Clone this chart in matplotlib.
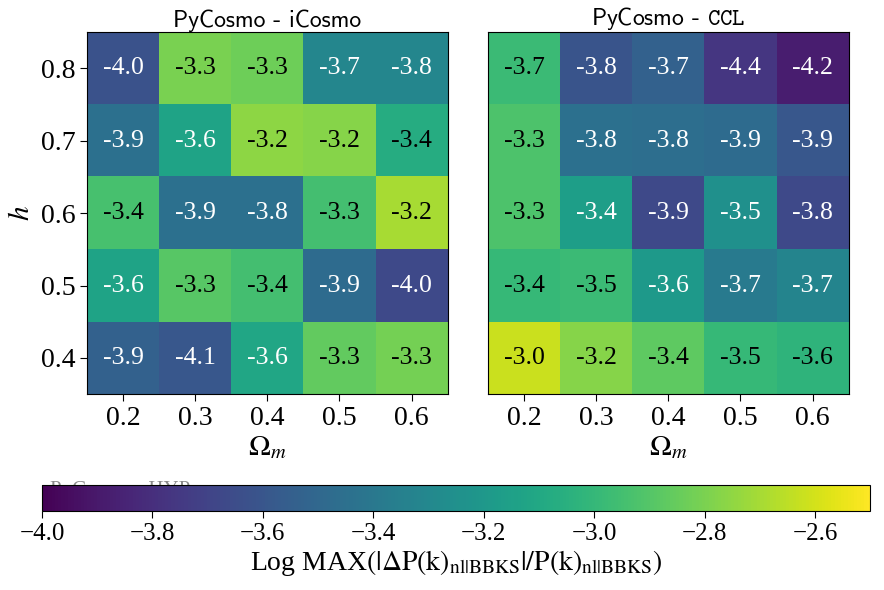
import numpy as np
import matplotlib
matplotlib.use("Agg")
import matplotlib.pyplot as plt
from matplotlib.colors import Normalize
from matplotlib.cm import ScalarMappable

# ---- data ----
omega_m = [0.2, 0.3, 0.4, 0.5, 0.6]
h_vals = [0.4, 0.5, 0.6, 0.7, 0.8]

# annotated values (rows: h = 0.4 ... 0.8, cols: Omega_m = 0.2 ... 0.6)
icosmo_ann = [
    [-3.9, -4.1, -3.6, -3.3, -3.3],
    [-3.6, -3.3, -3.4, -3.9, -4.0],
    [-3.4, -3.9, -3.8, -3.3, -3.2],
    [-3.9, -3.6, -3.2, -3.2, -3.4],
    [-4.0, -3.3, -3.3, -3.7, -3.8],
]
ccl_ann = [
    [-3.0, -3.2, -3.4, -3.5, -3.6],
    [-3.4, -3.5, -3.6, -3.7, -3.7],
    [-3.3, -3.4, -3.9, -3.5, -3.8],
    [-3.3, -3.8, -3.8, -3.9, -3.9],
    [-3.7, -3.8, -3.7, -4.4, -4.2],
]
# cell colour levels (in colour-bar units)
icosmo_level = [
    [-3.535, -3.595, -3.115, -2.86, -2.815],
    [-3.13, -2.89, -2.95, -3.475, -3.67],
    [-2.935, -3.445, -3.445, -2.95, -2.695],
    [-3.445, -3.13, -2.755, -2.77, -3.07],
    [-3.625, -2.80, -2.83, -3.31, -3.31],
]
ccl_level = [
    [-2.62, -2.77, -2.875, -2.995, -3.025],
    [-2.995, -2.98, -3.19, -3.385, -3.325],
    [-2.92, -3.16, -3.67, -3.25, -3.67],
    [-2.92, -3.445, -3.46, -3.475, -3.595],
    [-2.98, -3.61, -3.535, -3.76, -3.88],
]
cbar_ticks = [-4.0, -3.8, -3.6, -3.4, -3.2, -3.0, -2.8, -2.6]
vmin, vmax = -4.0, -2.5

plt.rcParams['font.family'] = ['Liberation Serif', 'DejaVu Serif']
plt.rcParams['mathtext.fontset'] = 'stix'

fig = plt.figure(figsize=(8.84, 5.9), dpi=100)
ax1 = fig.add_axes([0.0984, 0.332, 0.408, 0.6136])
ax2 = fig.add_axes([0.552, 0.332, 0.408, 0.6136])
cax = fig.add_axes([0.0475, 0.134, 0.937, 0.044])

norm = Normalize(vmin=vmin, vmax=vmax)
cmap = plt.get_cmap('viridis')

def draw(ax, level, ann, title_tex, show_y):
    lv = np.array(level)
    an = np.array(ann)
    dx = omega_m[1] - omega_m[0]
    dy = h_vals[1] - h_vals[0]
    ax.imshow(lv, origin='lower', cmap=cmap, norm=norm, aspect='auto',
              extent=[omega_m[0] - dx / 2, omega_m[-1] + dx / 2,
                      h_vals[0] - dy / 2, h_vals[-1] + dy / 2],
              interpolation='nearest')
    for i, hv in enumerate(h_vals):
        for j, om in enumerate(omega_m):
            c = 'black' if norm(lv[i, j]) > 0.62 else 'white'
            ax.text(om, hv, f"{an[i, j]:.1f}", ha='center', va='center',
                    color=c, fontsize=18.5)
    ax.set_xticks(omega_m)
    ax.set_xticklabels([f"{v:.1f}" for v in omega_m])
    ax.tick_params(labelsize=20, length=5)
    if show_y:
        ax.set_yticks(h_vals)
        ax.set_yticklabels([f"{v:.1f}" for v in h_vals])
        ax.set_ylabel(r'$h$', fontsize=21, labelpad=4)
    else:
        ax.set_yticks([])
    ax.set_xlabel(r'$\Omega_m$', fontsize=21, labelpad=2)
    ax.set_title(title_tex, fontfamily='cmss10', math_fontfamily='cm',
                 fontsize=17, pad=3)

draw(ax1, icosmo_level, icosmo_ann, 'PyCosmo - iCosmo', True)
draw(ax2, ccl_level, ccl_ann, r'PyCosmo - $\mathtt{CCL}$', False)

# hidden title behind the colour bar
fig.text(0.056, 0.161, 'PyCosmo - HYP', color='#8a8a8a', fontsize=15, zorder=-1)

sm = ScalarMappable(norm=norm, cmap=cmap)
cb = fig.colorbar(sm, cax=cax, orientation='horizontal', ticks=cbar_ticks)
cb.ax.set_xticklabels([f"\u2212{abs(t):.1f}" for t in cbar_ticks])
cb.ax.tick_params(labelsize=18, length=5)
cb.set_label(r'Log MAX$(|\Delta\mathrm{P(k)}_{\mathrm{nl}|\mathrm{BBKS}}|/\mathrm{P(k)}_{\mathrm{nl}|\mathrm{BBKS}})$',
             fontsize=20, labelpad=2)

fig.savefig('out.png', dpi=100)
